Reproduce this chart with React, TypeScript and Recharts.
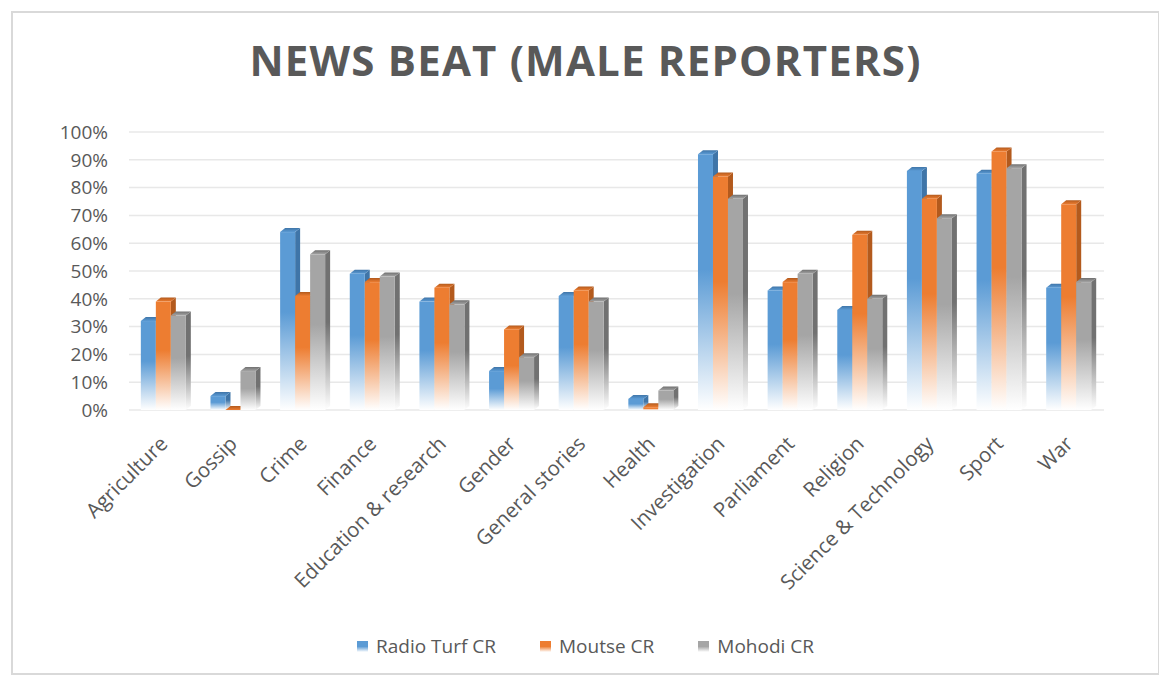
import { Bar, BarChart, CartesianGrid, XAxis, YAxis } from "recharts";

const CATEGORIES = [
  "Agriculture",
  "Gossip",
  "Crime",
  "Finance",
  "Education & research",
  "Gender",
  "General stories",
  "Health",
  "Investigation",
  "Parliament",
  "Religion",
  "Science & Technology",
  "Sport",
  "War",
];

const RADIO_TURF = [32, 5, 64, 49, 39, 14, 41, 4, 92, 43, 36, 86, 85, 44];
const MOUTSE = [39, 0, 41, 46, 44, 29, 43, 1, 84, 46, 63, 76, 93, 74];
const MOHODI = [34, 14, 56, 48, 38, 19, 39, 7, 76, 49, 40, 69, 87, 46];

const Y_TICKS = [0, 10, 20, 30, 40, 50, 60, 70, 80, 90, 100];

const SERIES = [
  { key: "radio", name: "Radio Turf CR", color: "#5b9bd5", dark: "#3f75a8" },
  { key: "moutse", name: "Moutse CR", color: "#ed7d31", dark: "#b35a1d" },
  { key: "mohodi", name: "Mohodi CR", color: "#a5a5a5", dark: "#717171" },
];

const data = CATEGORIES.map((name, i) => ({
  name,
  radio: RADIO_TURF[i],
  moutse: MOUTSE[i],
  mohodi: MOHODI[i],
}));

const FONT = "'Open Sans', 'Liberation Sans', sans-serif";
const TEXT = "#595959";
const DEPTH_X = 5;
const DEPTH_Y = 4;

function makeShape(key: string) {
  return (props: any) => {
    const { x, y, width, height } = props;
    const h = Math.max(0, height || 0);
    const top = y;
    const bottom = y + h;
    return (
      <g>
        <polygon
          points={`${x + width},${top} ${x + width + DEPTH_X},${top - DEPTH_Y} ${x + width + DEPTH_X},${bottom - DEPTH_Y} ${x + width},${bottom}`}
          fill={`url(#side-${key})`}
        />
        <polygon
          points={`${x},${top} ${x + DEPTH_X},${top - DEPTH_Y} ${x + width + DEPTH_X},${top - DEPTH_Y} ${x + width},${top}`}
          fill={`url(#topf-${key})`}
        />
        {h > 0 && <rect x={x} y={top} width={width} height={h} fill={`url(#front-${key})`} />}
      </g>
    );
  };
}

function CategoryTick(props: any) {
  const { x, y, payload } = props;
  const ax = x + 5;
  const ay = y + 27;
  return (
    <text
      x={ax}
      y={ay}
      transform={`rotate(-45, ${ax}, ${ay})`}
      textAnchor="end"
      fontFamily={FONT}
      fontSize={20.5}
      fill={TEXT}
    >
      {payload.value}
    </text>
  );
}

export default function App() {
  return (
    <div
      style={{
        position: "relative",
        width: 1149,
        height: 664,
        marginLeft: 3,
        marginTop: 3,
        border: "2px solid #d9d9d9",
        boxSizing: "border-box",
        background: "#fff",
        fontFamily: FONT,
      }}
    >
      <div
        style={{
          position: "absolute",
          top: 18,
          left: 0,
          width: "100%",
          textAlign: "center",
          fontSize: 42,
          fontWeight: 700,
          color: TEXT,
          letterSpacing: 1.2,
        }}
      >
        NEWS BEAT (MALE REPORTERS)
      </div>
      <div style={{ position: "absolute", top: 0, left: 0 }}>
        <BarChart
          width={1145}
          height={660}
          data={data}
          margin={{ top: 119, right: 54, bottom: 0, left: 16 }}
          barGap={0}
          barCategoryGap="17%"
        >
          <defs>
            {SERIES.map((s) => (
              <g key={s.key}>
                <linearGradient id={`front-${s.key}`} x1="0" y1="0" x2="0" y2="1">
                  <stop offset="0" stopColor={s.color} />
                  <stop offset="0.45" stopColor={s.color} />
                  <stop offset="1" stopColor="#ffffff" />
                </linearGradient>
                <linearGradient id={`side-${s.key}`} x1="0" y1="0" x2="0" y2="1">
                  <stop offset="0" stopColor={s.dark} />
                  <stop offset="0.45" stopColor={s.dark} />
                  <stop offset="1" stopColor="#ffffff" />
                </linearGradient>
                <linearGradient id={`topf-${s.key}`} x1="0" y1="0" x2="0" y2="1">
                  <stop offset="0" stopColor={s.dark} />
                  <stop offset="1" stopColor={s.color} />
                </linearGradient>
              </g>
            ))}
          </defs>
          <CartesianGrid vertical={false} stroke="#e8e8e8" strokeWidth={1.5} />
          <XAxis
            dataKey="name"
            interval={0}
            height={263}
            tickLine={false}
            axisLine={false}
            tick={<CategoryTick />}
          />
          <YAxis
            domain={[0, 100]}
            ticks={Y_TICKS}
            width={100}
            tickLine={false}
            axisLine={false}
            tickFormatter={(v: number) => `${v}%`}
            tick={{ fill: TEXT, fontSize: 19, fontFamily: FONT }}
            tickMargin={15}
          />
          {SERIES.map((s) => (
            <Bar
              key={s.key}
              dataKey={s.key}
              name={s.name}
              fill={s.color}
              shape={makeShape(s.key)}
              isAnimationActive={false}
            />
          ))}
        </BarChart>
      </div>
      <div
        style={{
          position: "absolute",
          top: 620,
          left: 0,
          width: "100%",
          display: "flex",
          justifyContent: "center",
          gap: 44,
          fontSize: 19,
          color: TEXT,
        }}
      >
        {SERIES.map((s) => (
          <div key={s.key} style={{ display: "flex", alignItems: "center", gap: 8 }}>
            <span
              style={{
                display: "inline-block",
                width: 11,
                height: 11,
                background: `linear-gradient(${s.color}, ${s.color} 50%, #ffffff)`,
              }}
            />
            <span>{s.name}</span>
          </div>
        ))}
      </div>
    </div>
  );
}
